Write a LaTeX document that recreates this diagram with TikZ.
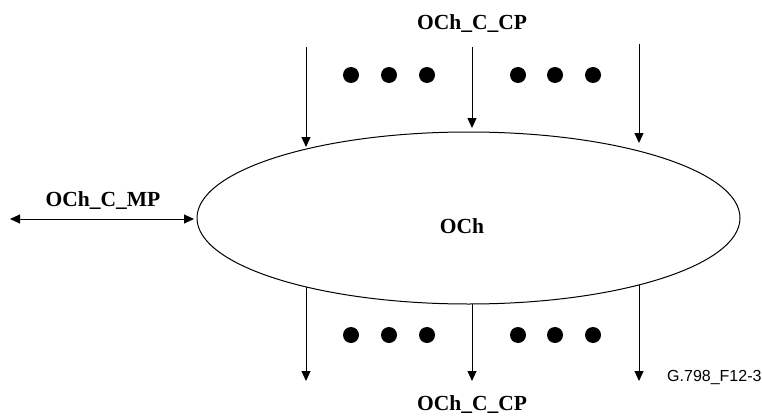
\documentclass[tikz,border=0pt]{standalone}
\usepackage{fontspec}
\setmainfont{Liberation Serif}
\newfontfamily\labsans{Liberation Sans}
\usetikzlibrary{shapes.geometric,arrows.meta}
\begin{document}
\begin{tikzpicture}[x=1pt,y=-1pt,
  arr/.style={line width=1pt,-{Triangle[length=10pt,width=9pt]}},
  darr/.style={line width=1pt,{Triangle[length=10pt,width=9pt]}-{Triangle[length=10pt,width=9pt]}},
  lab/.style={font=\fontsize{21.5}{24}\selectfont\bfseries,inner sep=0pt},
  dotmark/.style={circle,fill=black,minimum size=16pt,inner sep=0pt},
  oval/.style={ellipse,draw,line width=1pt,minimum width=543pt,minimum height=172pt,inner sep=0pt}]
\useasboundingbox (0,0) rectangle (762,417);
\node[oval] (och) at (468.5,218) {};
\node[lab] (ochlab) at (462,226) {OCh};
% top
\node[lab] (toplab) at (472,24) {OCh\_C\_CP};
\coordinate (t1) at (306,47); \coordinate (t1e) at (306,147);
\coordinate (t2) at (472,47); \coordinate (t2e) at (472,128);
\coordinate (t3) at (639,44); \coordinate (t3e) at (639,143);
\draw[arr] (t1) -- (t1e);
\draw[arr] (t2) -- (t2e);
\draw[arr] (t3) -- (t3e);
\foreach \i/\x in {1/351,2/389,3/427,4/518,5/555,6/593}
  \node[dotmark] (td\i) at (\x,75) {};
% bottom
\coordinate (b1) at (306,287); \coordinate (b1e) at (306,381);
\coordinate (b2) at (472,304); \coordinate (b2e) at (472,381);
\coordinate (b3) at (639,285); \coordinate (b3e) at (639,381);
\draw[arr] (b1) -- (b1e);
\draw[arr] (b2) -- (b2e);
\draw[arr] (b3) -- (b3e);
\foreach \i/\x in {1/351,2/389,3/427,4/518,5/555,6/593}
  \node[dotmark] (bd\i) at (\x,335) {};
\node[lab] (botlab) at (472,405) {OCh\_C\_CP};
\node[font=\labsans\fontsize{16}{19}\selectfont,inner sep=0pt,anchor=west] (fig) at (667,377) {G.798\_F12-3};
% left
\node[lab] (leftlab) at (103,201) {OCh\_C\_MP};
\coordinate (l1) at (10,219); \coordinate (l2) at (194,219);
\draw[darr] (l1) -- (l2);
\end{tikzpicture}
\end{document}
